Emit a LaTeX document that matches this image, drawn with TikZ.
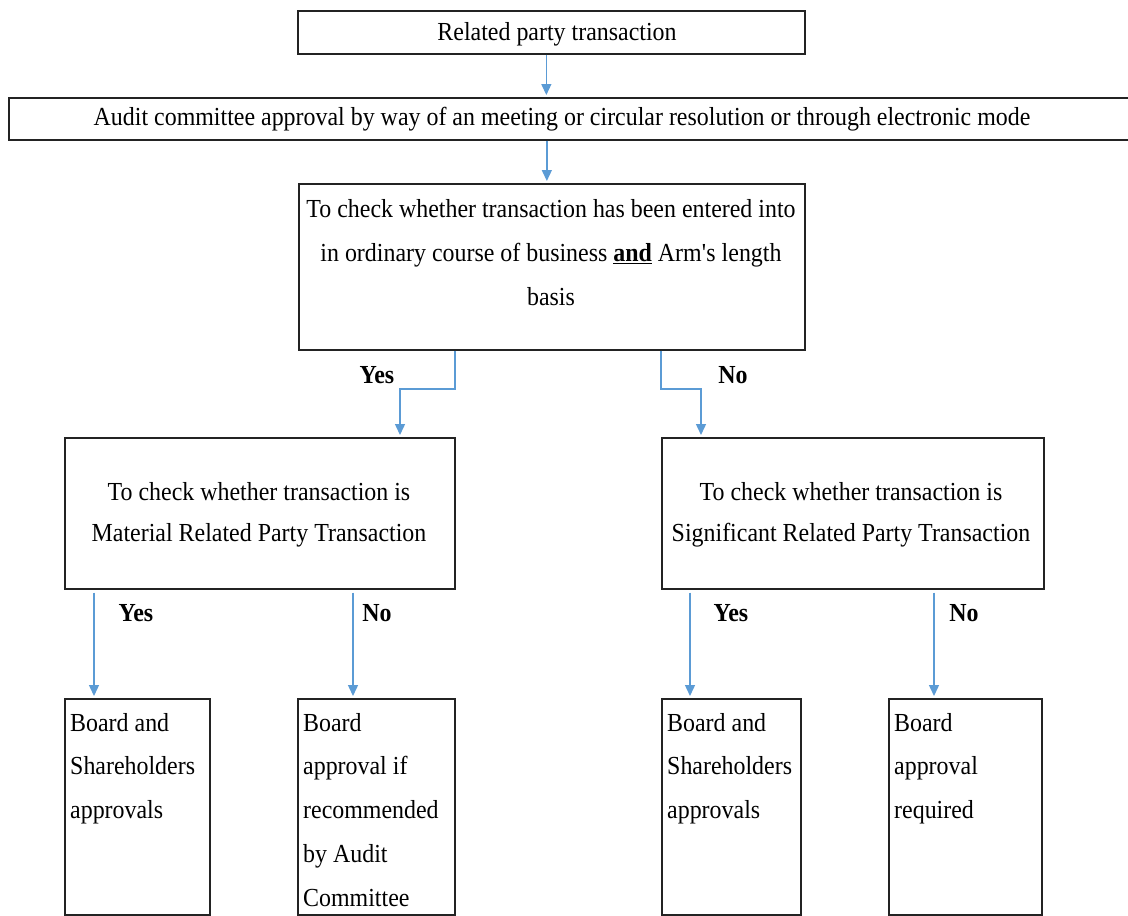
\documentclass[tikz,border=0pt]{standalone}
\usepackage{fontspec}
\setmainfont{Liberation Serif}[FakeStretch=0.92]
\usetikzlibrary{arrows.meta,calc}
\definecolor{arrowblue}{RGB}{91,155,213}
\definecolor{boxline}{RGB}{35,35,35}
\begin{document}
\begin{tikzpicture}[x=1pt,y=-1pt,
  box/.style={draw=boxline,line width=1.7pt,rectangle,inner sep=0pt,anchor=north west},
  txt/.style={font=\fontsize{26}{44}\selectfont,inner sep=0pt},
  btxt/.style={font=\fontsize{26}{43.7}\selectfont,inner sep=0pt,anchor=north west,align=left},
  lbl/.style={font=\fontsize{26}{28}\selectfont\bfseries,inner sep=0pt},
  arr/.style={draw=arrowblue,line width=1.4pt,-{Triangle[width=10pt,length=11pt]},shorten >=2pt},
]
\useasboundingbox (0,0) rectangle (1128,916);
\clip (0,0) rectangle (1128,916);
\fill[white] (0,0) rectangle (1128,916);

% boxes
\node[box,minimum width=507pt,minimum height=43pt] (b1) at (297,10) {};
\node[box,minimum width=1140pt,minimum height=42pt] (b2) at (8,97) {};
\node[box,minimum width=506pt,minimum height=166pt] (b3) at (298,183) {};
\node[box,minimum width=390pt,minimum height=151pt] (b4) at (64,437) {};
\node[box,minimum width=382pt,minimum height=151pt] (b5) at (661,437) {};
\node[box,minimum width=145pt,minimum height=216pt] (b6) at (64,698) {};
\node[box,minimum width=157pt,minimum height=216pt] (b7) at (297,698) {};
\node[box,minimum width=139pt,minimum height=216pt] (b8) at (661,698) {};
\node[box,minimum width=153pt,minimum height=216pt] (b9) at (888,698) {};

% texts
\node[txt] (t1) at (557,34) {Related party transaction};
\node[txt] (t2) at (562,119) {Audit committee approval by way of an meeting or circular resolution or through electronic mode};
\node[txt,align=center] (t3) at (551,253) {To check whether transaction has been entered into\\in ordinary course of business \textbf{\underline{and}} Arm\textquotesingle s length\\basis};
\node[txt,align=center,font=\fontsize{26}{41}\selectfont] (t4) at (259,515) {To check whether transaction is\\Material Related Party Transaction};
\node[txt,align=center,font=\fontsize{26}{41}\selectfont] (t5) at (851,515) {To check whether transaction is\\Significant Related Party Transaction};
\node[btxt] (t6) at (70,713) {Board and\\Shareholders\\approvals};
\node[btxt] (t7) at (303,713) {Board\\approval if\\recommended\\by Audit\\Committee};
\node[btxt] (t8) at (667,713) {Board and\\Shareholders\\approvals};
\node[btxt] (t9) at (894,713) {Board\\approval\\required};

% connectors
\draw[arr] ($(b1.south)+(-5,0)$) -- ($(b1.south |- b2.north)+(-5,0)$);
\draw[arr] ($(b2.south -| b3.north)+(-5,0)$) -- ($(b3.north)+(-5,0)$);
\draw[arr] ($(b3.south west)+(157,0)$) |- ($(b4.north west)+(336,-48)$) -- ($(b4.north west)+(336,0)$);
\draw[arr] ($(b3.south west)+(363,0)$) |- ($(b5.north west)+(40,-48)$) -- ($(b5.north west)+(40,0)$);
\draw[arr] ($(b4.south west)+(30,3)$) -- ($(b6.north west)+(30,0)$);
\draw[arr] ($(b4.south west)+(289,3)$) -- ($(b7.north west)+(56,0)$);
\draw[arr] ($(b5.south west)+(29,3)$) -- ($(b8.north west)+(29,0)$);
\draw[arr] ($(b5.south west)+(273,3)$) -- ($(b9.north west)+(46,0)$);

% labels
\node[lbl] (l1) at (377,375) {Yes};
\node[lbl] (l2) at (733,375) {No};
\node[lbl] (l3) at (136,613) {Yes};
\node[lbl] (l4) at (377,613) {No};
\node[lbl] (l5) at (731,613) {Yes};
\node[lbl] (l6) at (964,613) {No};
\end{tikzpicture}
\end{document}
